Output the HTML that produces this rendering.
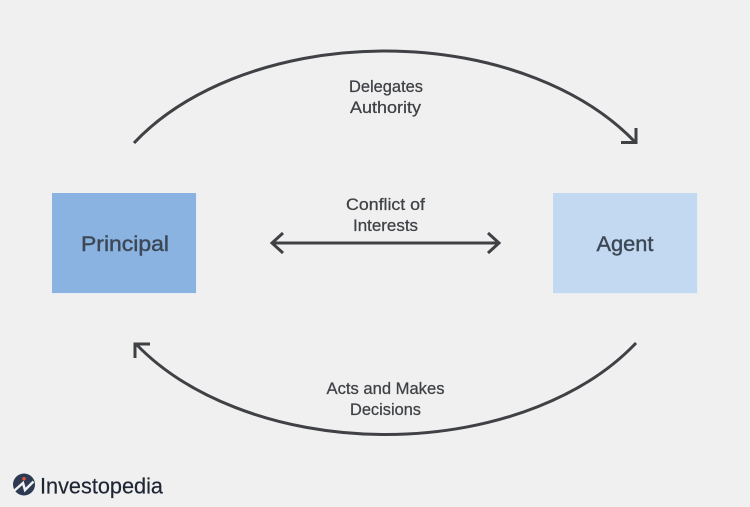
<!DOCTYPE html>
<html><head><meta charset="utf-8"><style>
html,body{margin:0;padding:0;background:#f0f0f1}
svg{display:block}
text{font-family:"Liberation Sans",sans-serif;fill:#3f4145;text-anchor:middle;stroke:#3f4145;stroke-width:.25}
</style></head><body>
<svg width="750" height="507" viewBox="0 0 750 507" xmlns="http://www.w3.org/2000/svg">
<rect width="750" height="507" fill="#f0f0f1"/>
<rect x="52" y="193" width="145" height="101" fill="#e6edf6"/>
<rect x="52" y="193" width="144" height="100" fill="#8ab3e2"/>
<rect x="553" y="193" width="145" height="101" fill="#e6edf6"/>
<rect x="553" y="193" width="144" height="100" fill="#c3d8f1"/>
<g fill="none" stroke="#3f4145" stroke-width="3">
<path d="M134 143A295 194 0 0 1 635 142"/>
<path d="M621 142.500H636V128"/>
<path d="M636 343A295 194 0 0 1 136 344"/>
<path d="M150 344H135V358"/>
<path d="M273 243H498"/>
<path d="M283 233L272 243L283 253"/>
<path d="M488 233L499 243L488 253"/>
</g>
<text x="125" y="251" font-size="21" textLength="88" lengthAdjust="spacingAndGlyphs" style="fill:#3c4754;stroke:#3c4754;stroke-width:.4">Principal</text>
<text x="625" y="251" font-size="21" textLength="57" lengthAdjust="spacingAndGlyphs" style="fill:#3c4754;stroke:#3c4754;stroke-width:.4">Agent</text>
<text x="386" y="92" font-size="16.5" textLength="74" lengthAdjust="spacingAndGlyphs">Delegates</text>
<text x="385.500" y="113" font-size="16.5" textLength="71" lengthAdjust="spacingAndGlyphs">Authority</text>
<text x="385.500" y="210" font-size="16.5" textLength="79" lengthAdjust="spacingAndGlyphs">Conflict of</text>
<text x="385.500" y="231" font-size="16.5" textLength="65" lengthAdjust="spacingAndGlyphs">Interests</text>
<text x="385.500" y="394" font-size="16.5" textLength="118" lengthAdjust="spacingAndGlyphs">Acts and Makes</text>
<text x="385.500" y="415" font-size="16.5" textLength="71" lengthAdjust="spacingAndGlyphs">Decisions</text>
<circle cx="24" cy="484.500" r="11" fill="#2c3a52"/>
<path d="M14.500 490.500L23 483L25 490L33.500 481.500" fill="none" stroke="#f0f0f1" stroke-width="2.500"/>
<circle cx="24" cy="478.800" r="1.800" fill="#e0533d"/>
<text x="101.500" y="493.500" font-size="22" textLength="123" lengthAdjust="spacingAndGlyphs" style="fill:#1f2633;stroke:#1f2633;stroke-width:.2">Investopedia</text>
</svg>
</body></html>
